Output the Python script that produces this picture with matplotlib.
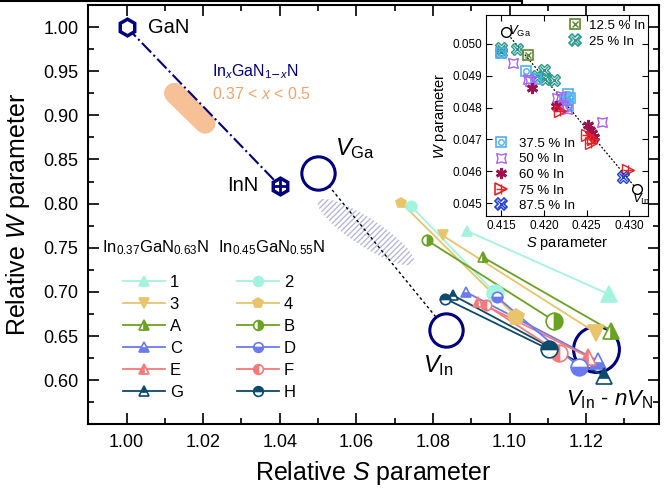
import numpy as np
import matplotlib
matplotlib.use("Agg")
import matplotlib.pyplot as plt
from matplotlib.lines import Line2D
from matplotlib.patches import Ellipse
from matplotlib.transforms import ScaledTranslation
from matplotlib.legend_handler import HandlerTuple

plt.rcParams['font.family'] = ['Liberation Sans', 'DejaVu Sans']
plt.rcParams['mathtext.fontset'] = 'custom'
plt.rcParams['mathtext.rm'] = 'Liberation Sans'
plt.rcParams['mathtext.it'] = 'Liberation Sans:italic'
plt.rcParams['hatch.linewidth'] = 1.0

# reference compounds and vacancies (relative S, W)
gan_s, gan_w = 1.00, 1.00
inn_s, inn_w = 1.04, 0.82
vga_s, vga_w = 1.050, 0.835
vin_s, vin_w = 1.0835, 0.657
vinn_s, vinn_w = 1.1225, 0.635

# samples: start (small marker) -> end (big marker)
names = ['1', '3', 'A', 'C', 'E', 'G', '2', '4', 'B', 'D', 'F', 'H']
s_start = [1.0890, 1.0825, 1.0930, 1.0886, 1.0917, 1.0853, 1.0743, 1.0717, 1.0785, 1.0966, 1.0938, 1.0832]
w_start = [0.7688, 0.7639, 0.7394, 0.6998, 0.6889, 0.6960, 0.7971, 0.8009, 0.7583, 0.6946, 0.6851, 0.6923]
s_end = [1.1260, 1.1225, 1.1266, 1.1232, 1.1204, 1.1247, 1.0963, 1.1017, 1.1117, 1.1182, 1.1130, 1.1102]
w_end = [0.6972, 0.6538, 0.6557, 0.6217, 0.6267, 0.6047, 0.6983, 0.6719, 0.6670, 0.6149, 0.6312, 0.6350]

cyan, orange, green = '#a4f3de', '#e8c46c', '#6aa222'
blue, red, dark = '#6b7af0', '#f67a7a', '#0c4a6e'
navy = '#000080'
colors = [cyan, orange, green, blue, red, dark, cyan, orange, green, blue, red, dark]
markers = ['^', 'v', '^', '^', '^', '^', 'o', 'p', 'o', 'o', 'o', 'o']
fills = ['full', 'full', 'right', 'bottom', 'left', 'top', 'full', 'full', 'right', 'bottom', 'left', 'top']

# inset: absolute S, W parameters
in125_s = [0.41814]
in125_w = [0.04966]
in25_s = [0.4150, 0.4150, 0.41684, 0.41998, 0.41920, 0.42010, 0.42116]
in25_w = [0.04987, 0.04974, 0.04982, 0.04919, 0.04898, 0.04890, 0.04886]
in375_s = [0.41492, 0.41786, 0.41912, 0.42284, 0.42300, 0.42284, 0.42250]
in375_w = [0.04972, 0.04914, 0.04888, 0.04841, 0.04830, 0.04804, 0.04825]
in50_s = [0.41637, 0.41814, 0.41841, 0.42155, 0.42194, 0.42225, 0.42265, 0.42684, 0.42167]
in50_w = [0.04940, 0.04890, 0.04883, 0.04830, 0.04835, 0.04806, 0.04794, 0.04754, 0.04804]
in60_s = [0.41865, 0.42139, 0.42520, 0.42539, 0.42559, 0.42590]
in60_w = [0.04862, 0.04806, 0.04746, 0.04731, 0.04720, 0.04708]
in75_s = [0.42186, 0.42500, 0.42547, 0.42571, 0.42990]
in75_w = [0.04788, 0.04715, 0.04689, 0.04702, 0.04603]
in875_s = [0.42931]
in875_w = [0.04582]
ivga_s, ivga_w = 0.41551, 0.05038
ivin_s, ivin_w = 0.43088, 0.04544

fig = plt.figure(figsize=(6.71, 4.93), dpi=100)
ax = fig.add_axes([0.1316, 0.1394, 0.8504, 0.8505])

# GaN -> InN line with the InGaN composition range
ax.plot([gan_s, inn_s], [gan_w, inn_w], color=navy, ls='-.', lw=1.5, zorder=2)
ax.plot([1.0125, 1.0205], [0.925, 0.891], color='#f6c197', lw=15,
        solid_capstyle='round', zorder=1)
ax.plot(gan_s, gan_w, 'h', ms=12, mfc='white', mec=navy, mew=2.5, zorder=3)
ax.plot(inn_s, inn_w, 'h', ms=12, mfc='white', mec=navy, mew=2.5, zorder=3)
ax.plot(inn_s, inn_w, '+', ms=11, mec=navy, mew=2, zorder=4)

# hatched region
ell = Ellipse((0, 0), 1.14, 0.28, angle=-33, fc='none', ec='#b8b8dc', lw=0,
              hatch='//////',
              transform=fig.dpi_scale_trans + ScaledTranslation(1.0625, 0.7677, ax.transData))
ax.add_patch(ell)

# vacancies
ax.plot([vga_s, vin_s], [vga_w, vin_w], color='black', ls=(0, (2, 2)), lw=1, zorder=2)
for s, w in [(vga_s, vga_w), (vin_s, vin_w)]:
    ax.plot(s, w, 'o', ms=24, mfc='white', mec=navy, mew=2.2, zorder=3)
ax.plot(vinn_s, vinn_w, 'o', ms=33, mfc='none', mec=navy, mew=2.2, zorder=3)

for i in range(len(names)):
    c = colors[i]
    ax.plot([s_start[i], s_end[i]], [w_start[i], w_end[i]], color=c, lw=1.3, zorder=4)
    kw = dict(marker=markers[i], color=c, mec=c, fillstyle=fills[i],
              markerfacecoloralt='white', mew=1.2, ls='none', zorder=5)
    ax.plot(s_start[i], w_start[i], ms=7.5, **kw)
    ax.plot(s_end[i], w_end[i], ms=12, **kw)

ax.set_xlim(0.99, 1.139)
ax.set_ylim(0.55, 1.025)
ax.set_xticks(np.arange(1.00, 1.121, 0.02))
ax.set_xticks(np.arange(0.99, 1.14, 0.01), minor=True)
ax.set_yticks(np.arange(0.60, 1.001, 0.05))
ax.set_yticks(np.arange(0.575, 1.02, 0.025), minor=True)
ax.tick_params(which='both', direction='in', top=True, right=True, labelsize=13, pad=7)
ax.tick_params(which='major', length=8, width=1.2)
ax.tick_params(which='minor', length=4.5, width=1.2)
for sp in ax.spines.values():
    sp.set_linewidth(1.5)
ax.set_xlabel('Relative $S$ parameter', fontsize=18, labelpad=6)
ax.set_ylabel('Relative $W$ parameter', fontsize=18, labelpad=8)

# annotations
ax.text(1.0055, 1.00, 'GaN', fontsize=14.5, va='center')
ax.text(1.0345, 0.820, 'InN', fontsize=14.5, va='center', ha='right')
ax.text(1.0222, 0.949, r'In$_x$GaN$_{1\mathsf{-}x}$N', fontsize=11.5, color=navy, va='center')
ax.text(1.0222, 0.9245, '0.37 < $x$ < 0.5', fontsize=11.5, color='#f2a46a', va='center')
ax.text(1.0545, 0.862, r'$V_{\mathrm{Ga}}$', fontsize=17, va='center')
ax.text(1.0775, 0.616, r'$V_{\mathrm{In}}$', fontsize=17, va='center')
ax.text(1.1375, 0.578, r'$V_{\mathrm{In}}$ - $nV_{\mathrm{N}}$', fontsize=16, va='center', ha='right')

# sample legends
fig.text(102 / 671, 1 - 248 / 493, r'In$_{0.37}$GaN$_{0.63}$N', fontsize=12, va='center')
fig.text(218 / 671, 1 - 248 / 493, r'In$_{0.45}$GaN$_{0.55}$N', fontsize=12, va='center')
handles = []
for i in range(len(names)):
    handles.append(Line2D([], [], color=colors[i], lw=1.3, marker=markers[i], ms=7,
                          mec=colors[i], fillstyle=fills[i], markerfacecoloralt='white', mew=1.2))
leg_kw = dict(bbox_transform=fig.transFigure, frameon=False, fontsize=12, handlelength=2.5,
              handletextpad=0.3, labelspacing=0.42, borderpad=0, borderaxespad=0, loc='upper left')
leg1 = ax.legend(handles[:6], names[:6], bbox_to_anchor=(123 / 671, 1 - 275 / 493), **leg_kw)
ax.add_artist(leg1)
ax.legend(handles[6:], names[6:], bbox_to_anchor=(237 / 671, 1 - 275 / 493), **leg_kw)

# inset
ai = fig.add_axes([486 / 671, 1 - 216 / 493, 162 / 671, 201 / 493])
ai.plot([ivga_s, ivin_s], [ivga_w, ivin_w], color='black', ls=(0, (1.5, 1.5)), lw=0.9, zorder=1)
ai.plot([ivga_s, ivin_s], [ivga_w, ivin_w], 'o', ms=7, mfc='white', mec='black', mew=1, zorder=2)

c125, c25, c375 = '#5b8a2c', '#2a9a8e', '#4fb0f0'
c50, c60, c75, c875 = '#b060f0', '#a0124f', '#e82020', '#2040d0'
ai.plot(in25_s, in25_w, 'X', ms=9, mfc='none', mec=c25, mew=1, zorder=3)
ai.plot(in25_s, in25_w, 'x', ms=6, mec=c25, mew=1, zorder=3)
ai.plot(in125_s, in125_w, 's', ms=7, mfc='none', mec=c125, mew=1.2, zorder=4)
ai.plot(in125_s, in125_w, 'x', ms=5, mec=c125, mew=1, zorder=4)
ai.plot(in375_s, in375_w, 's', ms=7, mfc='none', mec=c375, mew=1.2, zorder=3)
ai.plot(in375_s, in375_w, 'o', ms=4, mfc='none', mec=c375, mew=1, zorder=3)
ai.plot(in50_s, in50_w, marker=(4, 1, 45), ms=10, mfc='none', mec=c50, mew=1, ls='none', zorder=3)
ai.plot(in60_s, in60_w, marker=(6, 2, 0), ms=8, mec=c60, mew=2, ls='none', zorder=4)
ai.plot(in75_s, in75_w, '>', ms=8, mfc='none', mec=c75, mew=1, zorder=4)
ai.plot(in75_s, in75_w, '+', ms=7, mec=c75, mew=1, zorder=4)
ai.plot(in875_s, in875_w, 'X', ms=9, mfc='none', mec=c875, mew=1, zorder=4)
ai.plot(in875_s, in875_w, 'x', ms=6, mec=c875, mew=1, zorder=4)

ai.text(ivga_s + 0.0003, ivga_w + 0.00002, r'$V_{\mathrm{Ga}}$', fontsize=9.5, va='center')
ai.text(ivin_s - 0.0005, ivin_w - 0.00033, r'$V_{\mathrm{In}}$', fontsize=9.5, va='center')

ai.set_xlim(0.4132, 0.4322)
ai.set_ylim(0.0446, 0.0509)
ai.set_xticks([0.415, 0.420, 0.425, 0.430])
ai.set_yticks([0.045, 0.046, 0.047, 0.048, 0.049, 0.050])
ai.set_xticklabels(['0.415', '0.420', '0.425', '0.430'])
ai.set_yticklabels(['0.045', '0.046', '0.047', '0.048', '0.049', '0.050'])
ai.tick_params(direction='in', top=True, right=True, labelsize=8.5, length=4, pad=3)
ai.set_xlabel('$S$ parameter', fontsize=10.5, labelpad=2)
ai.set_ylabel('$W$ parameter', fontsize=10.5, labelpad=2)


def inset_handle(col, m1, m2, ms1, ms2):
    return (Line2D([], [], ls='none', marker=m1, ms=ms1, mfc='none', mec=col, mew=1.2),
            Line2D([], [], ls='none', marker=m2, ms=ms2, mec=col, mfc='none', mew=1))


hmap = {tuple: HandlerTuple(ndivide=1, pad=0)}
h_up = [inset_handle(c125, 's', 'x', 7, 5), inset_handle(c25, 'X', 'x', 9, 6)]
legi = ai.legend(h_up, ['12.5 % In', '25 % In'], loc='upper right', bbox_to_anchor=(1.0, 0.99),
                 frameon=False, fontsize=9.5, handlelength=1.0, handletextpad=0.6,
                 labelspacing=0.3, borderpad=0.2, borderaxespad=0, handler_map=hmap)
ai.add_artist(legi)
h_lo = [inset_handle(c375, 's', 'o', 7, 4),
        (Line2D([], [], ls='none', marker=(4, 1, 45), ms=10, mfc='none', mec=c50, mew=1),),
        (Line2D([], [], ls='none', marker=(6, 2, 0), ms=8, mec=c60, mew=2),),
        inset_handle(c75, '>', '+', 8, 7),
        inset_handle(c875, 'X', 'x', 9, 6)]
ai.legend(h_lo, ['37.5 % In', '50 % In', '60 % In', '75 % In', '87.5 % In'], loc='lower left',
          bbox_to_anchor=(0.03, 0.0), frameon=False, fontsize=9.5, handlelength=1.0,
          handletextpad=0.8, labelspacing=0.25, borderpad=0.3, borderaxespad=0, handler_map=hmap)

# page frame fragment at the top
fig.add_artist(Line2D([0, 522 / 671], [1 - 1.2 / 493] * 2, color='black', lw=1.5))
fig.add_artist(Line2D([522 / 671] * 2, [1, 1 - 3 / 493], color='black', lw=1.5))

fig.savefig('out.png', dpi=100)
